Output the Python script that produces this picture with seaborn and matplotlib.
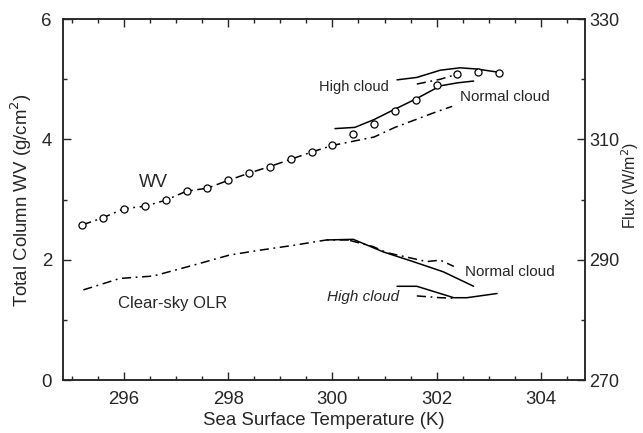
import matplotlib
matplotlib.use('Agg')
import matplotlib.pyplot as plt
import seaborn as sns
from matplotlib.ticker import MultipleLocator, FixedLocator

# water vapour samples (circles), g/cm2
wv_sst = [295.2, 295.6, 296.0, 296.4, 296.8, 297.2, 297.6, 298.0, 298.4, 298.8,
          299.2, 299.6, 300.0, 300.4, 300.8, 301.2, 301.6, 302.0, 302.4, 302.8, 303.2]
wv_val = [2.58, 2.70, 2.85, 2.89, 2.99, 3.14, 3.19, 3.32, 3.44, 3.55,
          3.67, 3.79, 3.90, 4.09, 4.25, 4.48, 4.66, 4.91, 5.09, 5.12, 5.11]

# WV dash-dot curve (normal cloud)
wv_dd_sst = [295.2, 295.6, 296.0, 296.4, 296.8, 297.2, 297.6, 298.0, 298.4, 298.8,
             299.2, 299.6, 300.0, 300.4, 300.8, 301.2, 301.6, 302.0, 302.3]
wv_dd_val = [2.58, 2.70, 2.85, 2.89, 2.99, 3.14, 3.19, 3.32, 3.44, 3.55,
             3.67, 3.79, 3.90, 3.97, 4.04, 4.20, 4.33, 4.46, 4.55]

# WV solid curve (normal cloud)
wv_nc_sst = [300.05, 300.43, 300.8, 301.17, 301.62, 302.07, 302.4, 302.71]
wv_nc_val = [4.18, 4.20, 4.33, 4.49, 4.68, 4.89, 4.94, 4.97]

# WV high cloud, solid and dash-dot
wv_hc_sst = [301.24, 301.62, 302.07, 302.45, 302.77, 303.16]
wv_hc_val = [4.99, 5.03, 5.15, 5.19, 5.17, 5.12]
wv_hcd_sst = [301.62, 302.07, 302.42]
wv_hcd_val = [4.92, 5.00, 5.09]

# clear-sky OLR (W/m2)
olr_sst = [295.22, 295.92, 296.56, 297.33, 298.03, 298.61, 299.25, 299.89, 300.34]
olr_val = [285.0, 286.9, 287.3, 289.1, 290.8, 291.6, 292.4, 293.3, 293.3]

# normal cloud flux, solid and dash-dot
nc_sst = [299.9, 300.40, 300.98, 301.55, 302.13, 302.71]
nc_val = [293.3, 293.4, 291.3, 289.7, 288.0, 285.6]
ncd_sst = [300.34, 300.78, 301.04, 301.81, 302.07, 302.33]
ncd_val = [293.2, 292.2, 291.2, 289.7, 289.95, 288.9]

# high cloud flux, solid and dash-dot
hc_sst = [301.24, 301.62, 302.33, 302.58, 303.16]
hc_val = [285.6, 285.6, 283.7, 283.7, 284.4]
hcd_sst = [301.62, 302.07, 302.39]
hcd_val = [284.0, 283.7, 283.6]

flux_ticks = [270, 290, 310, 330]

sns.set_style('ticks')
plt.rcParams['font.family'] = ['Liberation Sans', 'DejaVu Sans']
plt.rcParams['lines.dashdot_pattern'] = [6, 3, 1.2, 3]

fig = plt.figure(figsize=(6.43, 4.33), dpi=100)
ax = fig.add_axes([0.098, 0.122, 0.812, 0.834])
ax2 = ax.twinx()

lw = 1.1
k = 'black'

sns.lineplot(x=wv_dd_sst, y=wv_dd_val, ax=ax, color=k, lw=lw, linestyle='-.', estimator=None)
sns.lineplot(x=wv_nc_sst, y=wv_nc_val, ax=ax, color=k, lw=lw, estimator=None)
sns.lineplot(x=wv_hc_sst, y=wv_hc_val, ax=ax, color=k, lw=lw, estimator=None)
sns.lineplot(x=wv_hcd_sst, y=wv_hcd_val, ax=ax, color=k, lw=lw, linestyle='-.', estimator=None)
sns.scatterplot(x=wv_sst, y=wv_val, ax=ax, s=26, facecolor='white', edgecolor=k, linewidth=0.9, zorder=3)

sns.lineplot(x=olr_sst, y=olr_val, ax=ax2, color=k, lw=lw, linestyle='-.', estimator=None)
sns.lineplot(x=nc_sst, y=nc_val, ax=ax2, color=k, lw=lw, estimator=None)
sns.lineplot(x=ncd_sst, y=ncd_val, ax=ax2, color=k, lw=lw, linestyle='-.', estimator=None)
sns.lineplot(x=hc_sst, y=hc_val, ax=ax2, color=k, lw=lw, estimator=None)
sns.lineplot(x=hcd_sst, y=hcd_val, ax=ax2, color=k, lw=lw, linestyle='-.', estimator=None)

ax.set_xlim(294.83, 304.85)
ax.set_ylim(0, 6)
ax2.set_ylim(270, 330)

ax.xaxis.set_major_locator(MultipleLocator(2))
ax.xaxis.set_minor_locator(MultipleLocator(0.5))
ax.yaxis.set_major_locator(MultipleLocator(2))
ax.yaxis.set_minor_locator(MultipleLocator(1))
ax2.yaxis.set_major_locator(FixedLocator(flux_ticks))
ax2.yaxis.set_minor_locator(FixedLocator([280, 300, 320]))

ax.tick_params(which='both', direction='in', top=True, labelsize=13.4, width=1)
ax.tick_params(axis='x', pad=8)
ax.tick_params(axis='y', pad=8)
ax.tick_params(which='major', length=6)
ax.tick_params(which='minor', length=3)
ax2.tick_params(which='both', direction='in', labelsize=13, width=1, pad=3)
ax2.tick_params(which='major', length=6)
ax2.tick_params(which='minor', length=3)

for a in (ax, ax2):
    for s in a.spines.values():
        s.set_linewidth(1.1)
        s.set_visible(True)

ax.set_xlabel('Sea Surface Temperature (K)', fontsize=13.4, labelpad=3)
ax.set_ylabel('Total Column WV (g/cm$^2$)', fontsize=13.4, labelpad=5)
ax2.set_ylabel('Flux (W/m$^2$)', fontsize=11.5, va='center')
ax2.yaxis.set_label_coords(1.086, 0.54)

ax.text(296.56, 3.29, 'WV', fontsize=13, ha='center', va='center')
ax.text(300.41, 4.87, 'High cloud', fontsize=10.5, ha='center', va='center')
ax.text(303.31, 4.70, 'Normal cloud', fontsize=11, ha='center', va='center')
ax.text(296.94, 1.28, 'Clear-sky OLR', fontsize=12, ha='center', va='center')
ax.text(303.41, 1.79, 'Normal cloud', fontsize=11, ha='center', va='center')
ax.text(300.59, 1.38, 'High cloud', fontsize=11, ha='center', va='center', style='italic')

fig.savefig('out.png', dpi=100)
